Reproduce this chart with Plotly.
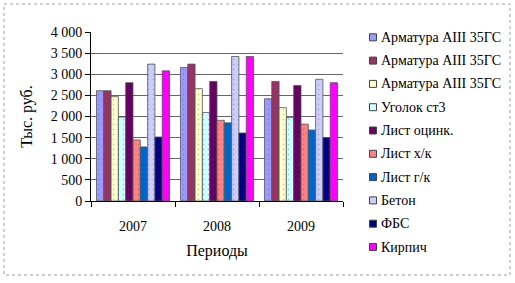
import plotly.graph_objects as go

periods = ["2007", "2008", "2009"]
series_names = [
    "Арматура АIII 35ГС", "Арматура АIII 35ГС", "Арматура АIII 35ГС",
    "Уголок ст3", "Лист оцинк.", "Лист х/к", "Лист г/к", "Бетон", "ФБС", "Кирпич",
]
armatura1 = [2610, 3160, 2420]
armatura2 = [2610, 3240, 2830]
armatura3 = [2470, 2660, 2210]
ugolok = [1985, 2095, 1975]
list_ocink = [2800, 2830, 2735]
list_xk = [1445, 1910, 1820]
list_gk = [1280, 1850, 1680]
beton = [3240, 3420, 2880]
fbs = [1515, 1610, 1500]
kirpich = [3080, 3420, 2800]
series_values = [armatura1, armatura2, armatura3, ugolok, list_ocink,
                 list_xk, list_gk, beton, fbs, kirpich]
colors = ["#9999FF", "#993366", "#FFFFCC", "#CCFFFF", "#660066",
          "#FF8080", "#0066CC", "#CCCCFF", "#000080", "#FF00FF"]
y_ticks = [0, 500, 1000, 1500, 2000, 2500, 3000, 3500, 4000]

FONT = "Liberation Serif"
W, H = 515, 283
L, R, T, B = 91, 172, 32, 82
pw = W - L - R
ph = H - T - B


def px2x(px):
    return (px - L) / pw


def px2y(py):
    return 1 - (py - T) / ph


fig = go.Figure()
for i, (name, vals, c) in enumerate(zip(series_names, series_values, colors)):
    fig.add_trace(go.Bar(
        x=periods, y=vals, name=name, showlegend=False,
        marker=dict(color=c, line=dict(color="#555555", width=0.8),
                    pattern=dict(shape=".", fgcolor="#444444", size=5,
                                 solidity=0.06, fgopacity=0.35)),
    ))

# manual legend (Excel-like small squares)
shapes = []
annotations = []
leg_y0, leg_step = 37.3, 23.3
for i, (name, c) in enumerate(zip(series_names, colors)):
    yc = leg_y0 + i * leg_step
    shapes.append(dict(
        type="rect", xref="paper", yref="paper",
        x0=px2x(369.5), x1=px2x(376.5), y0=px2y(yc + 3.5), y1=px2y(yc - 3.5),
        fillcolor=c, line=dict(color="#444444", width=1),
    ))
    annotations.append(dict(
        xref="paper", yref="paper", x=px2x(378.5), y=px2y(yc),
        xanchor="left", yanchor="middle", showarrow=False, text=name,
        font=dict(family=FONT, size=14, color="black"),
    ))

shapes.append(dict(
    type="rect", xref="paper", yref="paper",
    x0=px2x(4), x1=px2x(510), y0=px2y(4), y1=px2y(275),
    line=dict(color="#A0A0A0", width=1, dash="dot"),
))

fig.update_layout(
    width=W, height=H,
    margin=dict(l=L, r=R, t=T, b=B),
    paper_bgcolor="white", plot_bgcolor="white",
    barmode="group", bargap=0.13, bargroupgap=0,
    separators=", ",
    font=dict(family=FONT, size=14, color="black"),
    showlegend=False,
    xaxis=dict(
        type="category", showline=True, linecolor="black", linewidth=1,
        ticks="outside", tickson="boundaries", ticklen=5, tickcolor="black",
        tickfont=dict(family=FONT, size=14), ticklabelstandoff=12,
        title=dict(text="Периоды", font=dict(family=FONT, size=16), standoff=12),
        showgrid=False,
    ),
    yaxis=dict(
        range=[0, 4000], tickvals=y_ticks, tickformat=",d",
        showline=True, linecolor="black", linewidth=1,
        ticks="outside", ticklen=5, tickcolor="black",
        showgrid=True, gridcolor="#666666", gridwidth=1,
        tickfont=dict(family=FONT, size=14),
        title=dict(text="Тыс. руб.", font=dict(family=FONT, size=16), standoff=14),
        zeroline=False,
    ),
    shapes=shapes,
    annotations=annotations,
)

fig.write_html("out.html")
